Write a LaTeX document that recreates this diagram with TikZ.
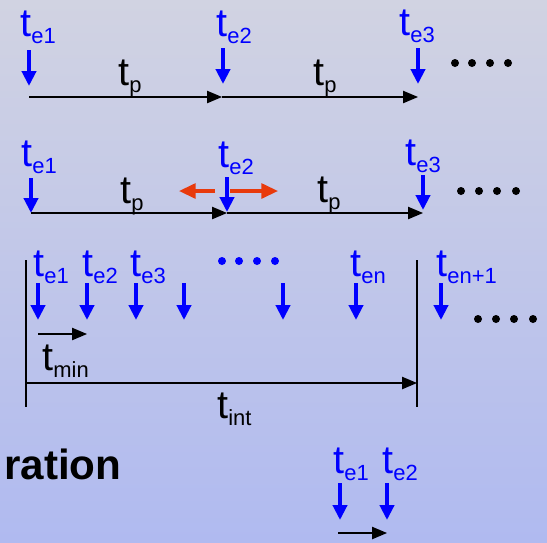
\documentclass[tikz,border=0pt]{standalone}
\usepackage{fontspec}
\setmainfont{Liberation Sans}
\usetikzlibrary{arrows.meta}

\definecolor{bgtop}{RGB}{209,211,226}
\definecolor{bgbot}{RGB}{176,186,240}
\definecolor{evblue}{RGB}{0,0,255}
\definecolor{jitred}{RGB}{232,58,12}

\newcommand{\tsub}[1]{t\raisebox{-4pt}{\fontsize{12.5}{14}\selectfont #1}}

\tikzset{
  lbl/.style={anchor=base west, inner sep=0pt, font=\fontsize{22.5}{26}\selectfont},
  evlbl/.style={lbl, text=evblue},
  event/.style={draw=evblue, line width=2.3pt, -{Triangle[width=8pt,length=8.5pt]}},
  timeln/.style={draw=black, line width=0.7pt, -{Triangle[width=7pt,length=8.5pt]}},
  jitter/.style={draw=jitred, line width=1.8pt, -{Triangle[width=8.5pt,length=9.5pt]}}
}

\begin{document}
\begin{tikzpicture}[x=0.02cm, y=-0.02cm]
    % Background
    \shade[top color=bgtop, bottom color=bgbot] (0,0) rectangle (547,542);
    \useasboundingbox (0,0) rectangle (547,542);

    % Periodic events
    \node[evlbl] (p1) at (20,36) {\tsub{e1}};
    \node[evlbl] (p2) at (216,36) {\tsub{e2}};
    \node[evlbl] (p3) at (399,35) {\tsub{e3}};
    \foreach \x/\y in {29/50, 223/48, 418/48} {
        \draw[event] (\x,\y) -- (\x,\y+36);
    }
    \draw[timeln] (29,97) -- (222,97);
    \draw[timeln] (222,97) -- (418,97);
    \node[lbl] (tp1) at (118,85) {\tsub{p}};
    \node[lbl] (tp2) at (313,85) {\tsub{p}};
    \foreach \x in {455,472,490,508} {
        \fill (\x,63) circle (4);
    }

    % Periodic events with jitter
    \node[evlbl] (j1) at (21,166) {\tsub{e1}};
    \node[evlbl] (j2) at (218,167) {\tsub{e2}};
    \node[evlbl] (j3) at (405,165) {\tsub{e3}};
    \foreach \x/\y in {31/178, 227/177, 423/175} {
        \draw[event] (\x,\y) -- (\x,\y+35);
    }
    \draw[timeln] (31,213) -- (227,213);
    \draw[timeln] (227,213) -- (423,213);
    \draw[jitter] (215,191) -- (179,191);
    \draw[jitter] (230,191) -- (278,191);
    \node[lbl] (tq1) at (120,203) {\tsub{p}};
    \node[lbl] (tq2) at (317,202) {\tsub{p}};
    \foreach \x in {461,479,497,516} {
        \fill (\x,191) circle (4);
    }

    % Sporadic events in an interval
    \draw[line width=0.7pt] (26,260) -- (26,407);
    \draw[line width=0.7pt] (417,260) -- (417,407);
    \node[evlbl] (s1) at (33,276) {\tsub{e1}};
    \node[evlbl] (s2) at (82,276) {\tsub{e2}};
    \node[evlbl] (s3) at (130,276) {\tsub{e3}};
    \node[evlbl] (sn) at (350,276) {\tsub{en}};
    \node[evlbl] (sn1) at (436,276) {\tsub{en+1}};
    \foreach \x in {38,87,136,184,283,356,441} {
        \draw[event] (\x,283) -- (\x,320);
    }
    \foreach \x in {222,239,257,275} {
        \fill[evblue] (\x,261) circle (4);
    }
    \foreach \x in {478,496,514,533} {
        \fill (\x,319) circle (4);
    }
    \draw[timeln] (38,334) -- (87,334);
    \node[lbl] (tmin) at (42,370) {\tsub{min}};
    \draw[timeln] (26,383) -- (417,383);
    \node[lbl] (tint) at (217,418) {\tsub{int}};

    % Bottom
    \node[anchor=base west, inner sep=0pt, font=\fontsize{24}{28}\selectfont\bfseries] (cap) at (4,479) {ration};
    \node[evlbl] (b1) at (333,473) {\tsub{e1}};
    \node[evlbl] (b2) at (382,473) {\tsub{e2}};
    \foreach \x in {340,387} {
        \draw[event] (\x,483) -- (\x,520);
    }
    \draw[timeln] (338,533) -- (387,533);
\end{tikzpicture}
\end{document}
